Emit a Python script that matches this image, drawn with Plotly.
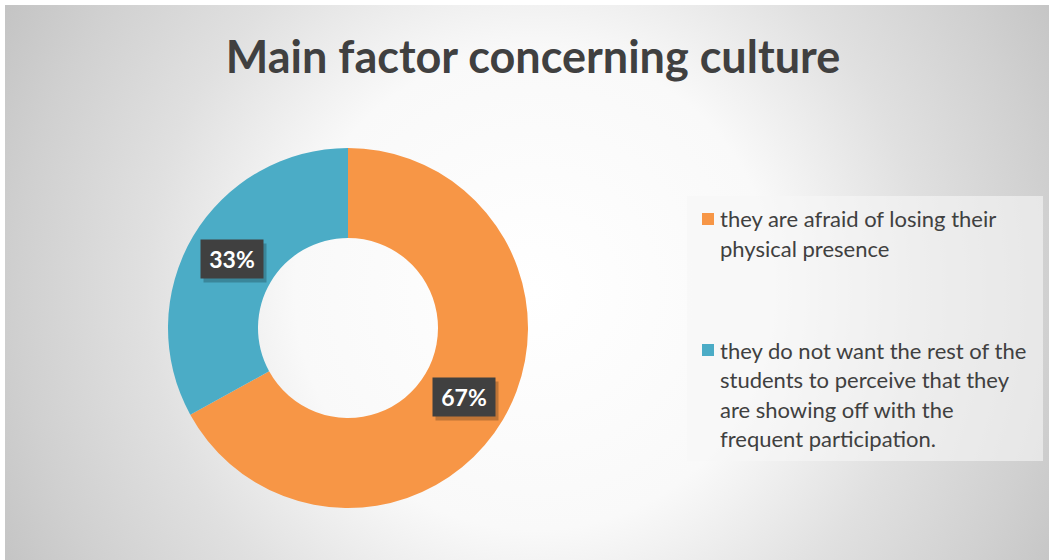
import base64
import math
import plotly.graph_objects as go

# ---- data ----
categories = [
    "they are afraid of losing their physical presence",
    "they do not want the rest of the students to perceive that they are showing off with the frequent participation.",
]
legend_lines = [
    ["they are afraid of losing their", "physical presence"],
    ["they do not want the rest of the", "students to perceive that they",
     "are showing off with the", "frequent participation."],
]
values = [67, 33]
colors = ["#F79646", "#4BACC6"]
title_text = "Main factor concerning culture"

W, H = 1049, 560

# ---- background radial gradient (svg image) ----
bx0, by0 = 5, 5
bw, bh = W - bx0, H - by0
svg = f'''<svg xmlns="http://www.w3.org/2000/svg" width="{bw}" height="{bh}" viewBox="0 0 {bw} {bh}">
<defs><radialGradient id="g" gradientUnits="userSpaceOnUse" cx="530" cy="285" r="600">
<stop offset="0" stop-color="#ffffff"/>
<stop offset="0.40" stop-color="#f9f9f9"/>
<stop offset="0.65" stop-color="#e0e0e0"/>
<stop offset="0.86" stop-color="#d0d0d0"/>
<stop offset="1" stop-color="#c4c4c4"/>
</radialGradient></defs>
<rect x="0" y="0" width="{bw}" height="{bh}" fill="url(#g)"/>
</svg>'''
svg_uri = "data:image/svg+xml;base64," + base64.b64encode(svg.encode()).decode()

# ---- pie geometry (pixels) ----
cx_px, cy_px, R_px = 348, 328, 180
hole = 0.5
dom_x = [(cx_px - R_px) / W, (cx_px + R_px) / W]
dom_y = [1 - (cy_px + R_px) / H, 1 - (cy_px - R_px) / H]

fig = go.Figure()
fig.add_trace(go.Pie(
    labels=categories, values=values, sort=False, direction="clockwise", rotation=0,
    hole=hole, marker=dict(colors=colors, line=dict(width=0)),
    textinfo="none", hoverinfo="label+percent", showlegend=False,
    domain=dict(x=dom_x, y=dom_y),
))

annotations = []
shapes = []

# data labels placed at slice centroids computed from values
total = sum(values)
cum = 0
r_mid = R_px * (1 + hole) / 2
for v in values:
    mid = (cum + v / 2) / total * 2 * math.pi
    cum += v
    px = cx_px + r_mid * math.sin(mid)
    py = cy_px - r_mid * math.cos(mid)
    pct = f"{round(v / total * 100)}%"
    # shadow
    annotations.append(dict(
        x=(px + 3) / W, y=1 - (py + 4) / H, xref="paper", yref="paper",
        text=" ", showarrow=False, width=58, height=34, borderpad=2,
        bgcolor="rgba(0,0,0,0.22)", xanchor="center", yanchor="middle"))
    annotations.append(dict(
        x=px / W, y=1 - py / H, xref="paper", yref="paper",
        text=f"<b>{pct}</b>", showarrow=False, width=58, height=34, borderpad=2,
        bgcolor="#404040", font=dict(family="Lato", size=23, color="white"),
        xanchor="center", yanchor="middle"))

# legend box
lx0, ly0, lx1, ly1 = 687, 196, 1043, 461
shapes.append(dict(type="rect", xref="paper", yref="paper",
                   x0=lx0 / W, x1=lx1 / W, y0=1 - ly1 / H, y1=1 - ly0 / H,
                   fillcolor="rgba(246,246,246,0.6)", line=dict(width=0), layer="below"))
item_tops = [219, 350]
line_h = 29.5
for i, lines in enumerate(legend_lines):
    ty = item_tops[i]
    shapes.append(dict(type="rect", xref="paper", yref="paper",
                       x0=702 / W, x1=714 / W, y0=1 - (ty + 6) / H, y1=1 - (ty - 6) / H,
                       fillcolor=colors[i], line=dict(width=0)))
    for j, ln in enumerate(lines):
        annotations.append(dict(
            x=718 / W, y=1 - (ty + j * line_h) / H, xref="paper", yref="paper",
            text=ln, showarrow=False, xanchor="left", yanchor="middle",
            font=dict(family="Lato", size=22, color="#404040")))

fig.update_layout(
    width=W, height=H, margin=dict(l=0, r=0, t=0, b=0),
    paper_bgcolor="white", plot_bgcolor="rgba(0,0,0,0)",
    title=dict(text=f"<b>{title_text}</b>", x=533 / W, xanchor="center",
               y=1 - 57 / H, yanchor="middle", yref="container",
               font=dict(family="Lato", size=45, color="#404040")),
    images=[dict(source=svg_uri, xref="paper", yref="paper",
                 x=bx0 / W, y=1 - by0 / H, sizex=bw / W, sizey=bh / H,
                 xanchor="left", yanchor="top", sizing="stretch", layer="below")],
    shapes=shapes, annotations=annotations,
    showlegend=False,
)

fig.write_html("out.html")
